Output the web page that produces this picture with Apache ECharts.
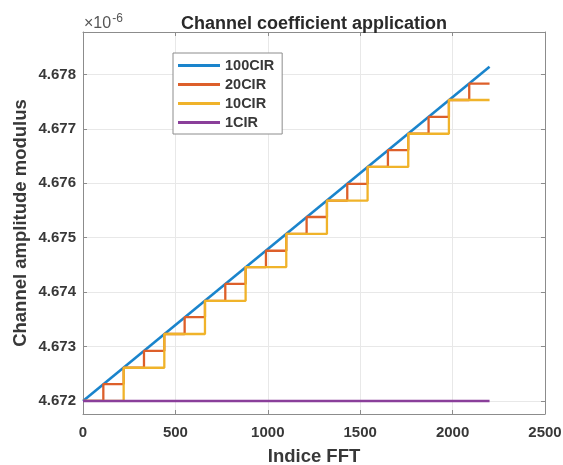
<!DOCTYPE html>
<html><head><meta charset="utf-8">
<script src="https://cdn.jsdelivr.net/npm/echarts@6/dist/echarts.min.js"></script>
<style>html,body{margin:0;padding:0;background:#fff}#c{width:563px;height:465px}</style>
</head><body><div id="c"></div>
<script>
// values in units of 1e-6
const seriesNames = ['100CIR', '20CIR', '10CIR', '1CIR'];
const xTicks = [0, 500, 1000, 1500, 2000, 2500];
const yTickLabels = ['4.672', '4.673', '4.674', '4.675', '4.676', '4.677', '4.678'];
const x100 = [0, 2200];
const y100 = [4.67200, 4.67814];
const x20 = [0, 110, 220, 330, 440, 550, 660, 770, 880, 990, 1100, 1210, 1320, 1430, 1540, 1650, 1760, 1870, 1980, 2090, 2200];
const y20 = [4.67200, 4.67231, 4.67261, 4.67292, 4.67323, 4.67354, 4.67384, 4.67415, 4.67446, 4.67476, 4.67507, 4.67538, 4.67568, 4.67599, 4.67630, 4.67661, 4.67691, 4.67722, 4.67753, 4.67783, 4.67783];
const x10 = [0, 220, 440, 660, 880, 1100, 1320, 1540, 1760, 1980, 2200];
const y10 = [4.67200, 4.67261, 4.67323, 4.67384, 4.67446, 4.67507, 4.67568, 4.67630, 4.67691, 4.67753, 4.67753];
const x1 = [0, 2200];
const y1 = [4.67200, 4.67200];

const colors = ['#1a84cc', '#DD5F2A', '#F0B32A', '#8A3F9A'];
const zip = (xs, ys) => xs.map((x, i) => [x, ys[i]]);
const font = 'Liberation Sans, Arial, sans-serif';
const txt = '#383838';

const chart = echarts.init(document.getElementById('c'));
const axisCommon = {
  axisLine: {show: true, onZero: false, lineStyle: {color: '#8c8c8c', width: 1}},
  axisTick: {show: true, inside: true, length: 4, lineStyle: {color: '#8c8c8c'}},
};
chart.setOption({
  animation: false,
  color: colors,
  title: {text: 'Channel coefficient application', left: 309, textAlign: 'center', top: 10,
    textStyle: {fontFamily: font, fontSize: 18, fontWeight: 'bold', color: '#2a2a2a'}},
  graphic: [{type: 'text', left: 84, top: 13, style: {
    text: '{a|×10}{b|-6}', fontFamily: font,
    rich: {a: {fontSize: 16, fill: '#555', fontFamily: font, verticalAlign: 'bottom', lineHeight: 19},
           b: {fontSize: 12, fill: '#555', fontFamily: font, verticalAlign: 'top', lineHeight: 19, padding: [0,0,10,1]}}}}],
  legend: {
    left: 173, top: 53, orient: 'vertical', data: seriesNames,
    icon: 'rect', itemWidth: 42, itemHeight: 3, itemGap: 4,
    backgroundColor: '#fff', borderColor: '#8c8c8c', borderWidth: 1,
    padding: [5, 8, 4, 5],
    textStyle: {fontFamily: font, fontSize: 14.5, fontWeight: 'bold', color: txt, lineHeight: 15}
  },
  grid: {left: 83, right: 18, top: 32, bottom: 51, outerBoundsMode: 'none', containLabel: false},
  xAxis: [{
    type: 'value', min: 0, max: 2500, interval: 500,
    name: 'Indice FFT', nameLocation: 'middle', nameGap: 33, nameMoveOverlap: false,
    nameTextStyle: {fontFamily: font, fontSize: 18.5, fontWeight: 'bold', color: txt},
    ...axisCommon,
    axisLabel: {fontFamily: font, fontSize: 15, fontWeight: 'bold', color: txt, margin: 11,
      formatter: v => xTicks.includes(v) ? String(v) : ''},
    splitLine: {show: true, lineStyle: {color: '#e8e8e8'}}
  }, {
    type: 'value', position: 'top', min: 0, max: 2500, interval: 500,
    ...axisCommon, axisLabel: {show: false}, splitLine: {show: false}
  }],
  yAxis: [{
    type: 'value', min: 4.67176, max: 4.67878, splitNumber: 7,
    name: 'Channel amplitude modulus', nameLocation: 'middle', nameGap: 53, nameMoveOverlap: false,
    nameTextStyle: {fontFamily: font, fontSize: 18.5, fontWeight: 'bold', color: txt},
    ...axisCommon,
    axisLabel: {fontFamily: font, fontSize: 15, fontWeight: 'bold', color: txt, margin: 7,
      showMinLabel: false, showMaxLabel: false,
      formatter: v => { const s = v.toFixed(3); return yTickLabels.includes(s) && Math.abs(v - parseFloat(s)) < 1e-7 ? s : ''; }},
    splitLine: {show: true, lineStyle: {color: '#e8e8e8'}}
  }, {
    type: 'value', position: 'right', min: 4.67176, max: 4.67878, splitNumber: 7,
    ...axisCommon, axisLabel: {show: false}, splitLine: {show: false}
  }],
  series: [
    {name: '100CIR', type: 'line', data: zip(x100, y100), symbol: 'none', lineStyle: {width: 2.6}},
    {name: '20CIR', type: 'line', step: 'end', data: zip(x20, y20), symbol: 'none', lineStyle: {width: 2.3}},
    {name: '10CIR', type: 'line', step: 'end', data: zip(x10, y10), symbol: 'none', lineStyle: {width: 2.3}},
    {name: '1CIR', type: 'line', data: zip(x1, y1), symbol: 'none', lineStyle: {width: 2.6}}
  ]
});
</script></body></html>
